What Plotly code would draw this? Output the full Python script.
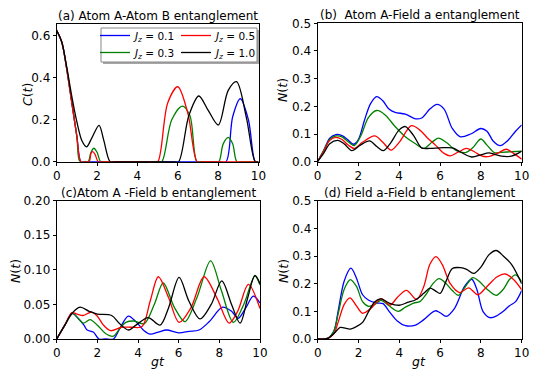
import plotly.graph_objects as go

# the page body keeps an 8 px margin, so the figure is drawn 8 px in from the window edge
OFF = 8
W, H = 540 - 2 * OFF, 380 - 2 * OFF


def px(x):
    return (x - OFF) / W


def py(y):
    return 1 - (y - OFF) / H


# ---- (a) Atom A - Atom B entanglement, C(t)
a_t_01 = [0, 0.25, 0.5, 0.75, 1.0, 1.2, 1.4, 8.0, 8.39, 8.72, 9.1, 9.5, 9.84, 10]
a_c_01 = [0.625, 0.57, 0.44, 0.28, 0.12, 0, 0, 0, 0, 0.214, 0.30, 0.20, 0, 0]
a_t_03 = [0, 0.25, 0.5, 0.75, 1.0, 1.15, 1.4, 1.56, 1.7, 1.84, 2.0, 2.18, 2.4,
          5.0, 5.21, 5.7, 6.22, 6.6, 6.95, 7.2, 7.8, 8.03, 8.25, 8.5, 8.72, 8.93, 9.2, 10]
a_c_03 = [0.625, 0.57, 0.44, 0.28, 0.12, 0, 0, 0, 0.045, 0.064, 0.045, 0, 0,
          0, 0, 0.20, 0.265, 0.22, 0, 0, 0, 0, 0.085, 0.116, 0.085, 0, 0, 0]
a_t_05 = [0, 0.25, 0.5, 0.75, 1.0, 1.2, 1.45, 1.61, 1.7, 1.78, 1.9, 2.06, 2.3,
          4.8, 5.01, 5.5, 6.0, 6.5, 6.96, 7.2, 10]
a_c_05 = [0.625, 0.57, 0.44, 0.28, 0.12, 0, 0, 0, 0.04, 0.048, 0.035, 0, 0,
          0, 0, 0.28, 0.357, 0.23, 0, 0, 0]
a_t_10 = [0, 0.25, 0.5, 0.75, 1.0, 1.25, 1.48, 1.75, 2.1, 2.33, 2.65, 2.9,
          5.8, 6.04, 6.55, 7.04, 7.5, 8.01, 8.5, 8.91, 9.4, 9.84, 10]
a_c_10 = [0.625, 0.57, 0.45, 0.31, 0.19, 0.10, 0.071, 0.115, 0.173, 0.103, 0, 0,
          0, 0, 0.22, 0.313, 0.246, 0.175, 0.34, 0.381, 0.21, 0, 0]

# ---- (b) Atom A - Field a entanglement, N(t)
b_t_01 = [0, 0.3, 0.6, 0.9, 1.2, 1.5, 1.76, 2.0, 2.3, 2.6, 2.9, 3.2, 3.5, 3.8, 4.3, 4.8,
          5.1, 5.5, 5.85, 6.2, 6.6, 7.0, 7.5, 8.0, 8.3, 8.6, 8.95, 9.3, 9.7, 10]
b_n_01 = [0, 0.04, 0.085, 0.098, 0.094, 0.078, 0.063, 0.08, 0.15, 0.21, 0.235, 0.22, 0.19,
          0.178, 0.172, 0.155, 0.158, 0.19, 0.207, 0.19, 0.12, 0.09, 0.10, 0.12, 0.11,
          0.075, 0.058, 0.075, 0.11, 0.133]
b_t_03 = [0, 0.3, 0.6, 0.9, 1.2, 1.5, 1.8, 2.1, 2.5, 2.9, 3.3, 3.8, 4.3, 4.8, 5.2, 5.6,
          5.92, 6.3, 6.8, 7.25, 7.6, 8.0, 8.3, 8.66, 9.0, 9.5, 10]
b_n_03 = [0, 0.04, 0.08, 0.093, 0.09, 0.072, 0.058, 0.09, 0.16, 0.185, 0.17, 0.127, 0.09,
          0.065, 0.048, 0.07, 0.085, 0.07, 0.04, 0.033, 0.05, 0.082, 0.06, 0.033, 0.034,
          0.036, 0.038]
b_t_05 = [0, 0.3, 0.6, 0.9, 1.2, 1.5, 1.8, 2.2, 2.8, 3.2, 3.6, 4.0, 4.6, 5.0, 5.4, 5.8,
          6.2, 6.5, 6.9, 7.3, 7.7, 8.0, 8.3, 8.8, 9.25, 9.6, 10]
b_n_05 = [0, 0.037, 0.077, 0.088, 0.08, 0.06, 0.048, 0.07, 0.093, 0.07, 0.042, 0.07, 0.13,
          0.115, 0.085, 0.058, 0.03, 0.021, 0.035, 0.048, 0.035, 0.022, 0.018, 0.03,
          0.045, 0.03, 0.009]
b_t_10 = [0, 0.3, 0.6, 1.0, 1.3, 1.68, 2.1, 2.55, 2.9, 3.23, 3.6, 4.0, 4.3, 4.7, 5.1,
          5.5, 6.0, 6.6, 7.0, 7.55, 8.0, 8.4, 9.0, 9.5, 10]
b_n_10 = [0, 0.03, 0.065, 0.077, 0.065, 0.04, 0.06, 0.075, 0.055, 0.04, 0.07, 0.115,
          0.127, 0.095, 0.05, 0.048, 0.05, 0.05, 0.035, 0.017, 0.025, 0.032, 0.02, 0.02,
          0.038]

# ---- (c) Atom A - Field b entanglement, N(t)
c_t_01 = [0, 0.4, 0.75, 1.05, 1.34, 1.5, 1.8, 2.08, 2.4, 2.79, 3.1, 3.52, 3.9, 4.3,
          4.6, 5.0, 5.4, 6.0, 6.5, 7.0, 7.5, 8.16, 8.6, 8.93, 9.3, 9.67, 10]
c_n_01 = [0, 0.02, 0.037, 0.03, 0.02, 0.013, 0.01, 0, 0, 0, 0.015, 0.033, 0.025, 0.012,
          0.007, 0.01, 0.013, 0.009, 0.011, 0.013, 0.025, 0.046, 0.04, 0.03, 0.045,
          0.062, 0.052]
c_t_03 = [0, 0.4, 0.8, 1.05, 1.31, 1.64, 2.0, 2.4, 2.78, 3.1, 3.4, 3.8, 4.3, 4.8, 5.24,
          5.8, 6.31, 6.9, 7.57, 8.1, 8.69, 9.2, 9.75, 10]
c_n_03 = [0, 0.02, 0.037, 0.03, 0.023, 0.028, 0.02, 0.008, 0.004, 0.015, 0.024, 0.026,
          0.022, 0.05, 0.081, 0.045, 0.025, 0.06, 0.113, 0.07, 0.024, 0.05, 0.091, 0.078]
c_t_05 = [0, 0.4, 0.75, 1.0, 1.3, 1.72, 2.0, 2.3, 2.65, 3.2, 3.7, 4.2, 4.6, 5.0, 5.5,
          6.02, 6.6, 7.25, 7.9, 8.48, 8.9, 9.43, 10]
c_n_05 = [0, 0.02, 0.038, 0.036, 0.034, 0.039, 0.033, 0.02, 0.012, 0.017, 0.017, 0.018,
          0.055, 0.09, 0.06, 0.024, 0.045, 0.09, 0.058, 0.023, 0.04, 0.079, 0.044]
c_t_10 = [0, 0.4, 0.75, 1.15, 1.6, 2.0, 2.7, 3.1, 3.53, 3.9, 4.5, 5.08, 5.5, 6.02,
          6.5, 7.05, 7.6, 8.12, 8.6, 9.02, 9.4, 9.75, 10]
c_n_10 = [0, 0.02, 0.037, 0.046, 0.04, 0.036, 0.034, 0.022, 0.013, 0.02, 0.031, 0.02,
          0.045, 0.089, 0.055, 0.029, 0.05, 0.084, 0.05, 0.023, 0.06, 0.092, 0.08]

# ---- (d) Field a - Field b entanglement, N(t)
d_t_01 = [0, 0.5, 0.8, 1.0, 1.3, 1.63, 1.9, 2.2, 2.5, 2.9, 3.2, 3.5, 3.9, 4.3, 4.8, 5.2,
          5.75, 6.0, 6.3, 6.7, 7.2, 7.55, 7.8, 8.1, 8.45, 8.8, 9.1, 9.4, 9.7, 10]
d_n_01 = [0, 0.003, 0.03, 0.10, 0.21, 0.256, 0.22, 0.16, 0.14, 0.13, 0.128, 0.10, 0.065,
          0.048, 0.05, 0.07, 0.102, 0.095, 0.082, 0.11, 0.19, 0.216, 0.18, 0.10, 0.077,
          0.085, 0.10, 0.12, 0.135, 0.175]
d_t_03 = [0, 0.5, 0.8, 1.0, 1.3, 1.6, 1.9, 2.2, 2.5, 2.8, 3.1, 3.5, 3.95, 4.3, 4.7, 5.0,
          5.3, 5.65, 5.95, 6.3, 6.6, 6.9, 7.2, 7.6, 7.9, 8.3, 8.75, 9.1, 9.4, 9.7, 10]
d_n_03 = [0, 0.003, 0.03, 0.09, 0.18, 0.215, 0.19, 0.135, 0.118, 0.125, 0.14, 0.12, 0.10,
          0.115, 0.13, 0.135, 0.16, 0.20, 0.218, 0.20, 0.175, 0.158, 0.185, 0.222, 0.21,
          0.18, 0.158, 0.18, 0.215, 0.232, 0.207]
d_t_05 = [0, 0.5, 0.8, 1.0, 1.3, 1.58, 1.9, 2.2, 2.6, 3.1, 3.55, 3.9, 4.35, 4.85, 5.2,
          5.5, 5.8, 6.1, 6.5, 6.95, 7.4, 7.85, 8.3, 8.8, 9.2, 9.6, 10]
d_n_05 = [0, 0.002, 0.02, 0.06, 0.125, 0.149, 0.12, 0.093, 0.11, 0.146, 0.123, 0.15,
          0.176, 0.143, 0.19, 0.27, 0.298, 0.27, 0.20, 0.168, 0.185, 0.16, 0.19, 0.225,
          0.235, 0.215, 0.178]
d_t_10 = [0, 0.5, 0.8, 1.1, 1.3, 1.6, 1.9, 2.2, 2.5, 2.8, 3.1, 3.5, 4.0, 4.4, 4.8, 5.2,
          5.5, 5.75, 6.0, 6.3, 6.6, 7.0, 7.3, 7.65, 8.0, 8.4, 8.75, 9.1, 9.5, 10]
d_n_10 = [0, 0.002, 0.02, 0.042, 0.04, 0.036, 0.045, 0.06, 0.10, 0.135, 0.145, 0.13,
          0.122, 0.132, 0.142, 0.165, 0.184, 0.175, 0.165, 0.21, 0.255, 0.258, 0.252,
          0.237, 0.26, 0.305, 0.32, 0.30, 0.27, 0.20]

labels = ["0.1", "0.3", "0.5", "1.0"]
colors = ["#0000ff", "#008000", "#ff0000", "#000000"]
legend_ids = ["legend", "legend2", "legend3", "legend4"]
# legend entry positions (screen px): two columns, two rows like matplotlib ncol=2
legend_xy = [(95, 35.5), (95, 52.5), (176, 35.5), (176, 52.5)]

panels = [
    ([a_t_01, a_t_03, a_t_05, a_t_10], [a_c_01, a_c_03, a_c_05, a_c_10]),
    ([b_t_01, b_t_03, b_t_05, b_t_10], [b_n_01, b_n_03, b_n_05, b_n_10]),
    ([c_t_01, c_t_03, c_t_05, c_t_10], [c_n_01, c_n_03, c_n_05, c_n_10]),
    ([d_t_01, d_t_03, d_t_05, d_t_10], [d_n_01, d_n_03, d_n_05, d_n_10]),
]
titles = ["(a) Atom A-Atom B entanglement", "(b)  Atom A-Field a entanglement",
          "(c)Atom A -Field b entanglement", "(d) Field a-Field b entanglement"]

# screen pixel boxes of the four axes: (left, right, top, bottom)
boxes = [(56.7, 258.5, 24, 161.7), (317.5, 521.7, 23.3, 161.7),
         (56.7, 260, 200.7, 339), (317.7, 521.7, 200.7, 339)]
yranges = [[0, 0.656], [0, 0.5], [0, 0.2], [0, 0.5]]
ydticks = [0.2, 0.1, 0.05, 0.1]
yfmt = [".1f", ".1f", ".2f", ".1f"]

fig = go.Figure()
font = dict(family="DejaVu Sans", size=12, color="black")

for i, (ts, vs) in enumerate(panels):
    sfx = "" if i == 0 else str(i + 1)
    for j in range(4):
        fig.add_trace(go.Scatter(
            x=ts[j], y=vs[j], mode="lines",
            line=dict(color=colors[j], width=1.3, shape="spline", smoothing=0.9),
            name="<i>J<sub>z</sub></i> = " + labels[j], legend=legend_ids[j],
            showlegend=(i == 0), xaxis="x" + sfx, yaxis="y" + sfx))
    l, r, t, b = boxes[i]
    ax = dict(showline=True, mirror=True, linecolor="black", linewidth=1, ticks="outside",
              ticklen=3, tickcolor="black", showgrid=False, zeroline=False, tickfont=font,
              automargin=False)
    fig.update_layout({
        "xaxis" + sfx: dict(ax, domain=[px(l), px(r)], range=[0, 10], dtick=2, tick0=0,
                            anchor="y" + sfx),
        "yaxis" + sfx: dict(ax, domain=[py(b), py(t)], range=yranges[i],
                            dtick=ydticks[i], tick0=0, tickformat=yfmt[i], anchor="x" + sfx),
    })
    fig.add_annotation(text=titles[i], x=px((l + r) / 2), y=py(t - 8), xref="paper",
                       yref="paper", showarrow=False, xanchor="center", yanchor="middle",
                       font=dict(family="DejaVu Sans", size=12, color="black"))

ylab_pos = [(27, 95, "<i>C</i>(<i>t</i>)"), (283, 90, "<i>N</i>(<i>t</i>)"),
            (15, 271, "<i>N</i>(<i>t</i>)"), (283, 271, "<i>N</i>(<i>t</i>)")]
for x, y, txt in ylab_pos:
    fig.add_annotation(text=txt, x=px(x), y=py(y), xref="paper", yref="paper",
                       showarrow=False, textangle=-90, xanchor="center", yanchor="middle",
                       font=dict(font, size=12.5))
for x, y in [(158, 361), (419, 361)]:
    fig.add_annotation(text="<i>gt</i>", x=px(x), y=py(y), xref="paper", yref="paper",
                       showarrow=False, xanchor="center", yanchor="middle",
                       font=dict(font, size=12.5))

# legend frame with a soft shadow, drawn behind four single-entry legends
fig.add_shape(type="rect", xref="paper", yref="paper", x0=px(103), x1=px(259),
              y0=py(64), y1=py(30), fillcolor="rgba(0,0,0,0.35)", line_width=0)
fig.add_shape(type="rect", xref="paper", yref="paper", x0=px(101), x1=px(257),
              y0=py(62), y1=py(28), fillcolor="white",
              line=dict(color="#888888", width=1))

leg = dict(yanchor="middle", xanchor="left", orientation="v", itemwidth=30,
           font=dict(family="DejaVu Sans", size=10.5, color="black"),
           bgcolor="rgba(0,0,0,0)", borderwidth=0)
legends = {lid: dict(leg, x=px(x), y=py(y)) for lid, (x, y) in zip(legend_ids, legend_xy)}

fig.update_layout(
    width=W, height=H, margin=dict(l=0, r=0, t=0, b=0),
    paper_bgcolor="white", plot_bgcolor="white", font=font,
    **legends,
)

fig.write_html("out.html")
